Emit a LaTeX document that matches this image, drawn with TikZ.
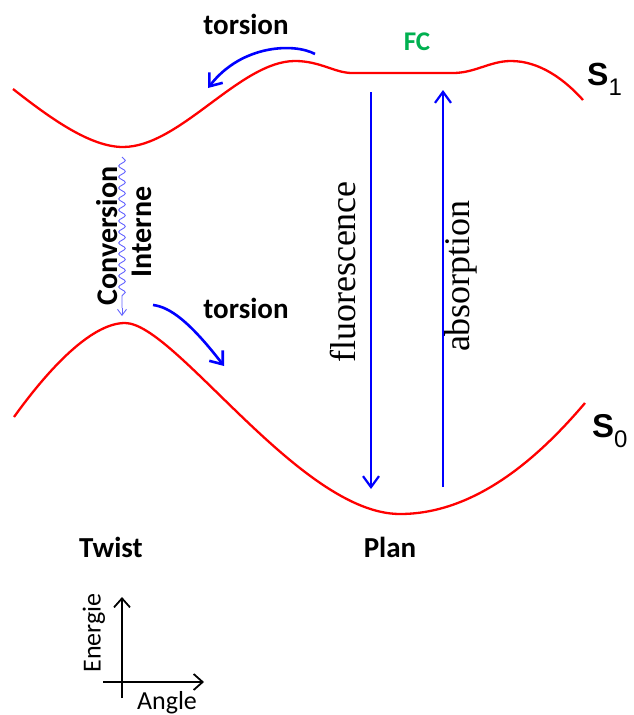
\documentclass[tikz,border=0pt]{standalone}
\usepackage{fontspec}
\usetikzlibrary{arrows.meta,decorations.pathmorphing,calc}
\newfontfamily\calb{Carlito}[BoldFont=* Bold]
\newfontfamily\serf{Liberation Serif}
\newfontfamily\arialf{Liberation Sans}
\definecolor{fcgreen}{RGB}{0,176,80}
\definecolor{wavyblue}{RGB}{100,100,255}
\tikzset{
  curve/.style={red, line width=2.3pt},
  trans/.style={blue, line width=2.2pt, -{Straight Barb[length=11pt,width=16pt,line width=2.2pt]}},
  tors/.style={blue, line width=2.6pt, -{Straight Barb[length=11pt,width=17pt,line width=2.6pt]}},
  axis/.style={black, line width=1.8pt, -{Straight Barb[length=9pt,width=16pt,line width=1.8pt]}},
  boldlbl/.style={font=\calb\bfseries\fontsize{29}{29}\selectfont, inner sep=0pt},
  convlbl/.style={font=\calb\bfseries\fontsize{30}{30}\selectfont, inner sep=0pt, rotate=90},
  axlbl/.style={font=\calb\fontsize{26}{26}\selectfont, inner sep=0pt},
  serlbl/.style={font=\serf\fontsize{36}{36}\selectfont, inner sep=0pt, rotate=90},
}
\begin{document}
\begin{tikzpicture}[x=1pt,y=-1pt]
\useasboundingbox (0,0) rectangle (633,715);
% S1 curve
\draw[curve] (13,89) .. controls (50,118) and (90,147) .. (123,147)
  .. controls (180,147) and (240,61) .. (295,61)
  .. controls (320,61) and (335,73) .. (352,73)
  -- (453,73)
  .. controls (475,73) and (490,61) .. (511,61)
  .. controls (540,61) and (565,80) .. (583,100);
% S0 curve
\draw[curve] (14,417) .. controls (55,360) and (95,323) .. (125,323)
  .. controls (175,323) and (300,514) .. (400,514)
  .. controls (480,514) and (545,450) .. (585,403);
% coordinates
\coordinate (fTop) at (371,92);
\coordinate (fBot) at (371,489);
\coordinate (aBot) at (443,487);
\coordinate (aTop) at (443,90);
\coordinate (t1s) at (315,54);
\coordinate (t1e) at (208,88);
\coordinate (t2s) at (153,305);
\coordinate (t2e) at (224,366);
\coordinate (wS) at (122,157);
\coordinate (wE) at (122,316);
\coordinate (wP) at (122,308);
\coordinate (yb) at (122,698);
\coordinate (yt) at (122,597);
\coordinate (xl) at (103,682);
\coordinate (xr) at (204,682);
% transitions
\draw[trans] (fTop) -- (fBot);
\draw[trans] (aBot) -- (aTop);
% torsion arrows
\draw[tors] (t1s) .. controls (295,43) and (242,44) .. (t1e);
\draw[tors] (t2s) .. controls (170,307) and (190,322) .. (t2e);
% internal conversion wavy arrow
\draw[wavyblue, line width=0.9pt, decorate, decoration={snake, amplitude=3.3pt, segment length=11pt, post length=8pt}] (wS) -- (wP);
\draw[wavyblue, line width=0.9pt, -{Straight Barb[length=6pt,width=9pt]}] (wP) -- (wE);
% axes
\draw[axis] (yb) -- (yt);
\draw[axis] (xl) -- (xr);
% labels
\node[boldlbl] (tor1) at (246,24) {torsion};
\node[boldlbl] (tor2) at (246,308) {torsion};
\node[font=\calb\bfseries\fontsize{27}{27}\selectfont, text=fcgreen, inner sep=0pt] (fc) at (417,42) {FC};
\node[convlbl] (conv) at (107,236) {Conversion};
\node[convlbl] (int) at (142,232) {Interne};
\node[boldlbl] (twist) at (111,547) {Twist};
\node[boldlbl] (plan) at (390,547) {Plan};
\node[serlbl] (fluo) at (343,272) {fluorescence};
\node[serlbl] (abs) at (461,276) {absorption};
\node[axlbl, rotate=90] (en) at (94,633) {Energie};
\node[axlbl] (ang) at (167,703) {Angle};
\node[inner sep=0pt, anchor=base west] (s1) at (587,85) {\arialf\bfseries\fontsize{32}{32}\selectfont S\raisebox{-10pt}{\mdseries\fontsize{24}{24}\selectfont 1}};
\node[inner sep=0pt, anchor=base west] (s0) at (592,437) {\arialf\bfseries\fontsize{33}{33}\selectfont S\raisebox{-10pt}{\mdseries\fontsize{24}{24}\selectfont 0}};
\end{tikzpicture}
\end{document}
